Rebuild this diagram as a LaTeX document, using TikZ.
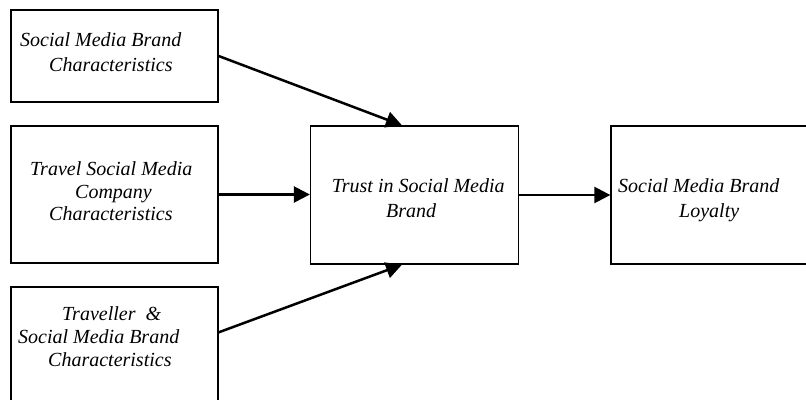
\documentclass[tikz,border=0pt]{standalone}
\usepackage{fontspec}
\setmainfont{Liberation Serif}
\usetikzlibrary{positioning,arrows.meta}

\begin{document}
\begin{tikzpicture}[x=1pt,y=1pt,
  box/.style={draw,line width=1.3pt,minimum width=207pt,inner sep=0pt},
  txt/.style={font=\fontsize{20}{25}\selectfont\itshape,align=left,inner sep=0pt,anchor=base west},
  arr/.style={-{Triangle[length=16pt,width=16pt]},line width=2.5pt}]
\useasboundingbox (0,0) rectangle (806,399);
\clip (0,0) rectangle (806,399);
% boxes
\node[box,minimum height=92pt] (brand) at (114.5,343) {};
\node[box,minimum height=137pt] (company) at (114.5,204.5) {};
\node[box,minimum height=153pt] (traveller) at (114.5,35.5) {};
\node[box,minimum width=208pt,minimum height=138pt] (trust) at (414.5,204) {};
\node[box,minimum width=219pt,minimum height=138pt] (loyalty) at (720.5,204) {};
% texts (base = last line)
\node[txt] (brandtxt) at (20,327) {Social Media Brand\\\hspace*{29pt}Characteristics};
\node[txt] (companytxt) at (30,178) {Travel Social Media\\[-2.5pt]\hspace*{45pt}Company\\[-2.5pt]\hspace*{19pt}Characteristics};
\node[txt] (travellertxt) at (18,32) {\hspace*{44pt}Traveller\ \ \&\\[-2pt]Social Media Brand\\[-2pt]\hspace*{30pt}Characteristics};
\node[txt] (trusttxt) at (331.7,181) {Trust in Social Media\\\hspace*{54.3pt}Brand};
\node[txt] (loyaltytxt) at (618,181) {Social Media Brand\\\hspace*{61pt}Loyalty};
% arrows
\draw[arr] (brand.east) -- ([xshift=-12.5pt]trust.north);
\draw[arr] (company.east) -- (company.east -| trust.west);
\draw[arr] ([yshift=-46pt]traveller.north east) -- ([xshift=-12.5pt]trust.south);
\draw[arr] (trust.east) -- (loyalty.west);
\end{tikzpicture}
\end{document}
